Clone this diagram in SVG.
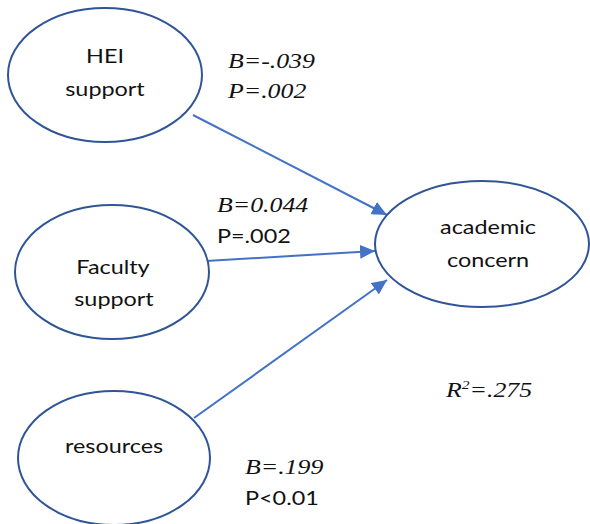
<svg xmlns="http://www.w3.org/2000/svg" width="590" height="524" viewBox="0 0 590 524">
<defs>
<marker id="ah" markerUnits="userSpaceOnUse" markerWidth="16" markerHeight="14" refX="15" refY="7" orient="auto">
<path d="M0,0 L15,7 L0,14 Z" fill="#4472C4"/>
</marker>
<style>
.node ellipse{fill:#fff;stroke:#2F5597;stroke-width:2}
.sans{font-family:Lato,"Open Sans","Liberation Sans",sans-serif;font-size:19.5px;fill:#111}
.ser{font-family:"Liberation Serif","Times New Roman",serif;font-style:italic;font-size:21.5px;fill:#111}
.conn line{stroke:#4472C4;stroke-width:2;marker-end:url(#ah)}
</style>
</defs>
<rect width="590" height="524" fill="#fff"/>
<g id="connectors" class="conn">
<line x1="193" y1="115" x2="387" y2="215"/>
<line x1="206" y1="261" x2="375" y2="251"/>
<line x1="194" y1="418" x2="387" y2="280"/>
</g>
<g id="hei" class="node">
<ellipse cx="105" cy="75" rx="97" ry="67"/>
<text class="sans" text-anchor="middle" transform="translate(105,63) scale(1.2,1)">HEI</text>
<text class="sans" text-anchor="middle" transform="translate(105,96) scale(1.2,1)">support</text>
</g>
<g id="faculty" class="node">
<ellipse cx="112" cy="272" rx="97" ry="67"/>
<text class="sans" text-anchor="middle" transform="translate(113,274) scale(1.2,1)">Faculty</text>
<text class="sans" text-anchor="middle" transform="translate(114,306) scale(1.2,1)">support</text>
</g>
<g id="resources" class="node">
<ellipse cx="114" cy="458" rx="96" ry="67"/>
<text class="sans" text-anchor="middle" transform="translate(114,453) scale(1.2,1)">resources</text>
</g>
<g id="academic" class="node">
<ellipse cx="482" cy="244" rx="107" ry="63"/>
<text class="sans" text-anchor="middle" transform="translate(488,234) scale(1.2,1)">academic</text>
<text class="sans" text-anchor="middle" transform="translate(488,267) scale(1.2,1)">concern</text>
</g>
<g id="labels">
<text class="ser" transform="translate(228,68) scale(1.2,1)">B=-.039</text>
<text class="ser" transform="translate(228,98) scale(1.2,1)">P=.002</text>
<text class="ser" transform="translate(217,212) scale(1.2,1)">B=0.044</text>
<text class="sans" transform="translate(217,243) scale(1.2,1)">P=.002</text>
<text class="ser" transform="translate(446,397) scale(1.2,1)">R<tspan font-size="13" dy="-8">2</tspan><tspan dy="8">=.275</tspan></text>
<text class="ser" transform="translate(245,474) scale(1.2,1)">B=.199</text>
<text class="sans" transform="translate(245,505) scale(1.2,1)">P&lt;0.01</text>
</g>
</svg>
